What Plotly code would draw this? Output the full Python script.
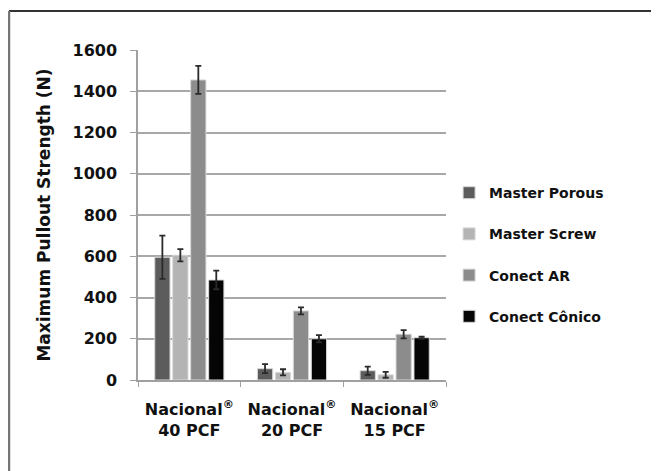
import plotly.graph_objects as go

categories = ["Nacional® 40 PCF", "Nacional® 20 PCF", "Nacional® 15 PCF"]
tick_labels = ["<b>Nacional<sup>®</sup><br>40 PCF</b>", "<b>Nacional<sup>®</sup><br>20 PCF</b>", "<b>Nacional<sup>®</sup><br>15 PCF</b>"]
series_names = ["Master Porous", "Master Screw", "Conect AR", "Conect Cônico"]
master_porous = [595, 55, 45]
master_porous_err = [105, 22, 20]
master_screw = [605, 37, 25]
master_screw_err = [30, 15, 14]
conect_ar = [1455, 335, 222]
conect_ar_err = [68, 17, 20]
conect_conico = [485, 200, 205]
conect_conico_err = [45, 18, 5]
colors = ["#5c5c5c", "#b4b4b4", "#8c8c8c", "#050505"]

values = [master_porous, master_screw, conect_ar, conect_conico]
errors = [master_porous_err, master_screw_err, conect_ar_err, conect_conico_err]

FONT = "DejaVu Sans, sans-serif"

W, H = 651, 463
L, T, PW, PH = 130, 42, 308, 330

fig = go.Figure()
for name, v, e, c in zip(series_names, values, errors, colors):
    fig.add_trace(go.Bar(
        x=categories, y=v, name=f"<b>{name}</b>", legendgroup=name,
        marker=dict(color=c, line=dict(color="#d8d8d8", width=1)),
        error_y=dict(type="data", array=e, visible=True, color="#2a2a2a", thickness=1.8, width=3),
    ))

fig.update_layout(
    width=W, height=H,
    margin=dict(l=L, r=W - L - PW, t=T, b=H - T - PH),
    paper_bgcolor="white", plot_bgcolor="white",
    barmode="group", bargap=0.3, bargroupgap=0.15,
    font=dict(family=FONT, size=14, color="#111111"),
    legend=dict(x=1.01, y=0.38, xanchor="left", yanchor="middle",
                font=dict(family=FONT, size=14, color="#111111"),
                tracegroupgap=20, itemwidth=30),
    xaxis=dict(showline=True, linecolor="#a0a0a0", linewidth=1.5, automargin=False,
               ticks="outside", tickson="boundaries", ticklen=5, tickcolor="#a0a0a0",
               tickvals=categories, ticktext=tick_labels, ticklabelstandoff=14,
               tickfont=dict(family=FONT, size=16, color="#111111")),
    yaxis=dict(title=dict(text="<b>Maximum Pullout Strength (N)</b>", font=dict(family=FONT, size=17), standoff=18),
               range=[0, 1600], dtick=200, showgrid=True, gridcolor="#a8a8a8", gridwidth=2,
               showline=True, linecolor="#a0a0a0", linewidth=1.5, automargin=False,
               ticks="outside", ticklen=6, tickcolor="#a0a0a0", ticklabelstandoff=10,
               tickfont=dict(family=FONT, size=16, color="#111111"), tickprefix="<b>", ticksuffix="</b>",
               zeroline=False),
    showlegend=True,
)

# outer frame: left and top lines
fig.add_shape(type="line", xref="paper", yref="paper", x0=(1 - L) / PW, x1=2.0,
              y0=(PH + T - 3) / PH, y1=(PH + T - 3) / PH,
              line=dict(color="#333333", width=2))
fig.add_shape(type="line", xref="paper", yref="paper", x0=(1 - L) / PW, x1=(1 - L) / PW,
              y0=(PH + T - 3) / PH, y1=-0.4,
              line=dict(color="#777777", width=2.5))

fig.write_html("out.html")
